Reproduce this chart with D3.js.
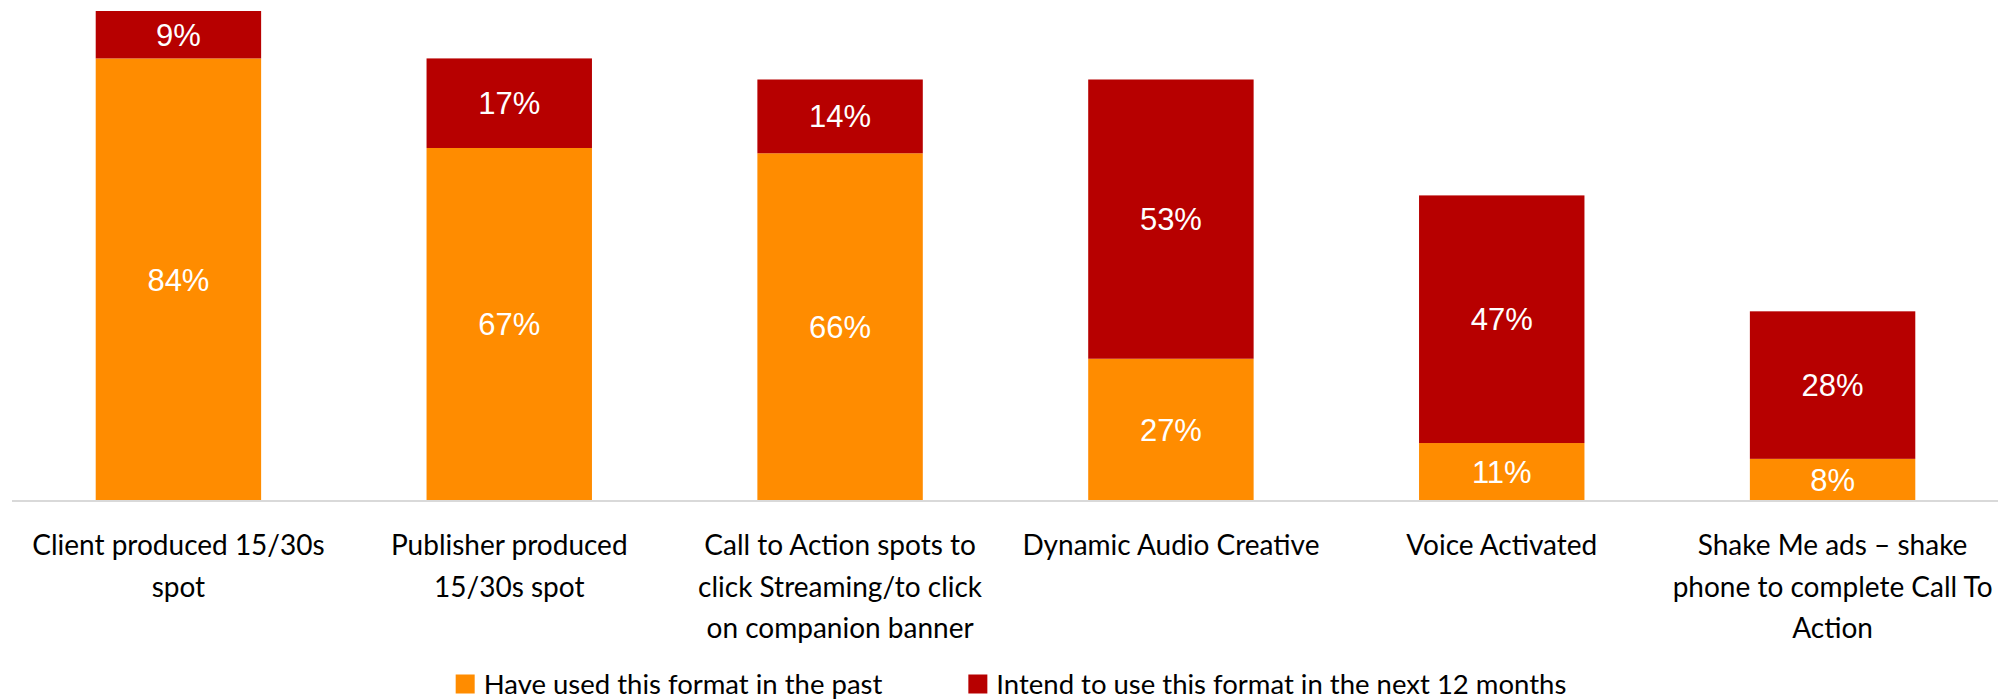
<!DOCTYPE html>
<html>
<head>
<meta charset="utf-8">
<script src="https://cdn.jsdelivr.net/npm/d3@7"></script>
<style>
  html, body { margin: 0; padding: 0; background: #fff; }
  svg { display: block; }
</style>
</head>
<body>
<svg id="chart" width="1998" height="699"></svg>
<script>
// ---- data ----
const categories = [
  "Client produced 15/30s spot",
  "Publisher produced 15/30s spot",
  "Call to Action spots to click Streaming/to click on companion banner",
  "Dynamic Audio Creative",
  "Voice Activated",
  "Shake Me ads \u2013 shake phone to complete Call To Action"
];
const categoryLines = [
  ["Client produced 15/30s", "spot"],
  ["Publisher produced", "15/30s spot"],
  ["Call to Action spots to", "click Streaming/to click", "on companion banner"],
  ["Dynamic Audio Creative"],
  ["Voice Activated"],
  ["Shake Me ads \u2013 shake", "phone to complete Call To", "Action"]
];
const usedPast = [84, 67, 66, 27, 11, 8];
const intendNext = [9, 17, 14, 53, 47, 28];
const seriesNames = ["Have used this format in the past", "Intend to use this format in the next 12 months"];
const seriesColors = ["#FF8C00", "#B70000"];

// ---- layout ----
const W = 1998, H = 699;
const svg = d3.select("#chart");
const axisY = 501;
const topY = 11;
const fontLabel = "Lato, 'Open Sans', sans-serif";

const x = d3.scaleBand().domain(categories).range([13, 1998]).paddingInner(0.5).paddingOuter(0.25);
const y = d3.scaleLinear().domain([0, 93]).range([axisY, topY]);

const rows = categories.map((c, i) => ({ cat: c, past: usedPast[i], next: intendNext[i] }));
const stack = d3.stack().keys(["past", "next"])(rows);

const g = svg.append("g");
stack.forEach((layer, li) => {
  g.selectAll(null).data(layer).enter().append("rect")
    .attr("x", d => x(d.data.cat))
    .attr("width", x.bandwidth())
    .attr("y", d => y(d[1]))
    .attr("height", d => y(d[0]) - y(d[1]))
    .attr("fill", seriesColors[li]);
  g.selectAll(null).data(layer).enter().append("text")
    .attr("x", d => x(d.data.cat) + x.bandwidth() / 2)
    .attr("y", d => (y(d[0]) + y(d[1])) / 2 + 11)
    .attr("text-anchor", "middle")
    .attr("font-family", "'Liberation Sans', Arial, sans-serif")
    .attr("font-size", 31)
    .attr("fill", "#fff")
    .text(d => (d[1] - d[0]) + "%");
});

// axis
const axis = d3.axisBottom(x).tickSize(0).tickSizeOuter(0).tickFormat("");
const ax = svg.append("g").attr("transform", `translate(0,${axisY})`).call(axis);
ax.select(".domain").attr("stroke", "#d9d9d9").attr("stroke-width", 2).attr("d", `M12,0H1998`);

// category labels
const lbl = svg.append("g");
categories.forEach((c, i) => {
  const t = lbl.append("text")
    .attr("x", x(c) + x.bandwidth() / 2)
    .attr("y", 554)
    .attr("text-anchor", "middle")
    .attr("font-family", fontLabel)
    .attr("font-size", 28)
    .attr("fill", "#000");
  categoryLines[i].forEach((ln, j) => {
    t.append("tspan").attr("x", x(c) + x.bandwidth() / 2).attr("y", 555 + j * 41.5).text(ln);
  });
});

// legend
const leg = svg.append("g");
const sq = 19, gapTxt = 9, gapItem = 86, legY = 684;
const items = seriesNames.map((n, i) => {
  const gi = leg.append("g");
  gi.append("rect").attr("width", sq).attr("height", sq).attr("y", legY - sq / 2).attr("fill", seriesColors[i]);
  const tx = gi.append("text").attr("x", sq + gapTxt).attr("y", legY + 10)
    .attr("font-family", fontLabel).attr("font-size", 27.5).attr("fill", "#000").text(n);
  return { gi, w: sq + gapTxt + tx.node().getComputedTextLength() };
});
const total = d3.sum(items, d => d.w) + gapItem * (items.length - 1);
let cx = 1011 - total / 2;
items.forEach(it => { it.gi.attr("transform", `translate(${cx},0)`); cx += it.w + gapItem; });
</script>
</body>
</html>
